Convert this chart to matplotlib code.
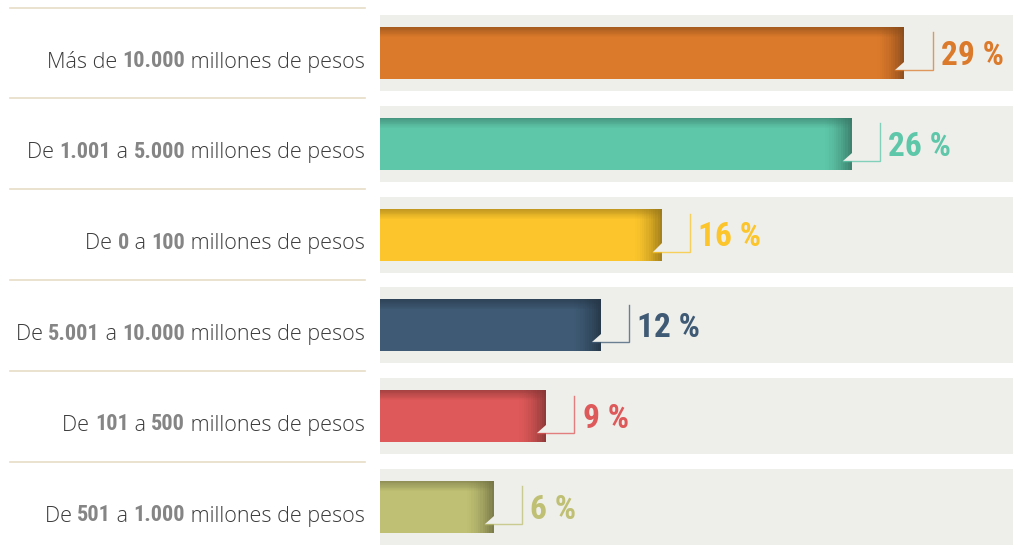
import matplotlib
matplotlib.use("Agg")
import matplotlib.pyplot as plt
from matplotlib import font_manager as fm
from matplotlib.transforms import blended_transform_factory
from matplotlib.patches import Polygon
import numpy as np

# ---- data ----
label_parts = [
    [("Más de ", "n"), ("10.000", "b"), (" millones de pesos", "n")],
    [("De ", "n"), ("1.001", "b"), (" a ", "n"), ("5.000", "b"), (" millones de pesos", "n")],
    [("De ", "n"), ("0", "b"), (" a ", "n"), ("100", "b"), (" millones de pesos", "n")],
    [("De ", "n"), ("5.001", "b"), (" a ", "n"), ("10.000", "b"), (" millones de pesos", "n")],
    [("De ", "n"), ("101", "b"), (" a ", "n"), ("500", "b"), (" millones de pesos", "n")],
    [("De ", "n"), ("501", "b"), (" a ", "n"), ("1.000", "b"), (" millones de pesos", "n")],
]
values = [29.0, 26.1, 15.6, 12.2, 9.2, 6.3]
value_labels = ["29 %", "26 %", "16 %", "12 %", "9 %", "6 %"]
colors = ["#DC7A2B", "#5EC7A9", "#FBC52B", "#3E5A74", "#DE5959", "#BFC073"]

names = {f.name for f in fm.fontManager.ttflist}
cond = None
for cand in ["Liberation Sans Narrow", "DejaVu Sans Condensed", "Roboto Condensed"]:
    if cand in names:
        cond = cand
        break
if cond is None:
    cond = "DejaVu Sans"
light = "Open Sans" if "Open Sans" in names else "DejaVu Sans"

W, H = 1013, 546
fig = plt.figure(figsize=(W / 100, H / 100), dpi=100)
fig.patch.set_facecolor("white")
ax = fig.add_axes([380 / W, 0, 633 / W, 1])
ax.set_xlim(0, 35)
ax.set_ylim(5.43, -0.584)
ax.axis("off")

n = len(values)
ypos = np.arange(n)
bar_h = 0.573
band_h = 0.837

# background bands
ax.barh(ypos, [35] * n, height=band_h, left=0, color="#EEEEEA", zorder=0)
# main bars
ax.barh(ypos, values, height=bar_h, color=colors, zorder=2)

def darker(c, f):
    rgb = np.array(matplotlib.colors.to_rgb(c))
    return tuple(rgb * f)

steps = 12
for i, (v, c) in enumerate(zip(values, colors)):
    top = i - bar_h / 2
    bot = i + bar_h / 2
    dk = darker(c, 0.6)
    # top gradient
    for s in range(steps):
        hstrip = 0.11 / steps
        ax.add_patch(plt.Rectangle((0, top + s * hstrip), v, hstrip,
                                   color=dk, alpha=0.6 * (1 - s / steps), lw=0, zorder=3))
    # right gradient
    gw = 1.5
    for s in range(steps):
        wstrip = gw / steps
        ax.add_patch(plt.Rectangle((v - gw + s * wstrip, top), wstrip, bar_h,
                                   color=dk, alpha=0.85 * ((s + 1) / steps) ** 1.6, lw=0, zorder=3))
    # fold triangle
    yl = bot - 0.10
    ax.add_patch(Polygon([(v - 0.5, yl), (v, yl), (v, yl - 0.09)], closed=True,
                         facecolor="#EEEEEA", edgecolor="none", zorder=4))
    # leader line
    lx = v + 1.55
    ax.plot([v - 0.5, lx, lx], [yl, yl, top + 0.06], color=c, lw=1.0, alpha=0.75,
            zorder=4, solid_joinstyle="miter")
    ax.text(lx + 0.45, i + 0.03, value_labels[i], color=c, fontsize=24,
            family=cond, fontweight="bold", va="center", ha="left", zorder=5)

# separator lines on left
tr = blended_transform_factory(fig.transFigure, ax.transData)
for i in range(n):
    ax.plot([10 / W, 365 / W], [i - 0.5, i - 0.5], color="#E8DCC6", lw=1.2,
            transform=tr, clip_on=False)

# labels, right aligned at x=365 px
fig.canvas.draw()
renderer = fig.canvas.get_renderer()
for i, parts in enumerate(label_parts):
    xr = 365.0
    for txt, kind in reversed(parts):
        if kind == "b":
            t = fig.text(xr / W, i + 0.09, txt, fontsize=16, family=cond, fontweight="bold",
                         color="#858585", ha="right", va="center", transform=tr)
        else:
            t = fig.text(xr / W, i + 0.1, txt, fontsize=15.5, family=light, fontweight="light",
                         color="#3a3a3a", ha="right", va="center", transform=tr)
        bb = t.get_window_extent(renderer)
        xr -= bb.width

fig.savefig("out.png", dpi=100, facecolor="white")
